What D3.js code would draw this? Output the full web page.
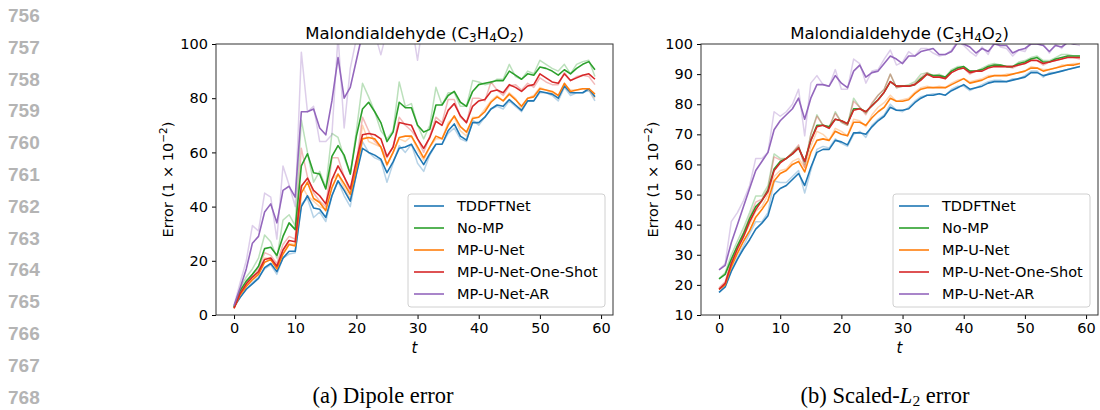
<!DOCTYPE html>
<html>
<head>
<meta charset="utf-8">
<script src="https://cdn.jsdelivr.net/npm/d3@7"></script>
<style>
  body { margin: 0; background: #fff; }
  svg { display: block; }
  .tick text { font-family: "DejaVu Sans", sans-serif; font-size: 14.5px; fill: #000; }
  .tick line { stroke: #000; }
</style>
</head>
<body>
<svg id="chart" width="1100" height="410"></svg>
<script>
let steps = d3.range(60);

let seriesNames = ["TDDFTNet", "No-MP", "MP-U-Net", "MP-U-Net-One-Shot", "MP-U-Net-AR"];
let seriesColors = ["#1f77b4", "#2ca02c", "#ff7f0e", "#d62728", "#9467bd"];

// dipole error (left panel)
let dipTDDFT = [3,6.5,9.5,11.5,13.5,17.5,19,16,21,23.5,23.5,40,44,39.5,39,36,44,49.5,46,42,52,61.5,60,59,57.5,52.5,56.5,61.5,62,63,59,55.5,59.5,63,63,68,70.5,66,64.5,71,71,73,76,77.5,77,79.5,77.5,75.5,79,79,82.5,82,81.5,80,84.5,82,82,82,83.5,80.5];
let dipTDDFTb = [3,6.5,9.5,12,14,17,18.5,15,21,22.5,23,41,43,36,38,34.5,44,49.5,44,40,52,64,60,58,57,49,56,62.5,60,63,56,53,59,63,63,67,69,65,64,72,70,73,76,77,76,79,77,75,79,79,82,82,81,79,84,81,82,82,83,79];
let dipNoMP = [3,9,12.5,15,18,24.5,25,22,29,34,31.5,55,59.5,52.5,52,46.5,58.5,62.5,59,52,66,76,78.5,75,71,64,67.5,78.5,76.5,76.5,70,67.5,68.5,77.5,77.5,81,82.5,78.5,77,82.5,85,85.5,86,86.5,86.5,90,88.5,87,89,88.5,91.5,91,90,88.5,90.5,89,91,92.5,93.5,90.5];
let dipNoMPb = [3,10,14,17,21,29.5,27,21,35,37,33,72,60,49,53,47,67,65.5,58,52,68,85.5,80.5,75,68,65,68,86,77,78,70,65,70,84,77.5,82,82,77,77,86.5,86,85,85.5,87,87,92.5,88,87,90,89,94,92.5,91,90,92.5,89,92.5,93.5,94,88];
let dipUNet = [2.5,7.5,10.5,13,15,19.5,20.5,17,22.5,26,25.5,45,49,43,41.5,38.5,47,52,48.5,44.5,54,65,65.5,65,62,55.5,60,65.5,66,66,62,58,62,66,65,70,73.5,69.5,67.5,72.5,73,75,78.5,80.5,79,81.5,79.5,77,80,80.5,83.5,83,82.5,81,85.5,82.5,83,83.5,83.5,81.5];
let dipUNetb = [2.5,8,11,13.5,16,21,21,17.5,24,26.5,26,48,44,42,40,39,50,52,47,43,54,70,64,63,62,55,60,65,64,66,61,57,62,65,65,71,73,68,66,73,73,76,79,81,79,82,80,76,80,81,84,83,82,80,85,83,83,83.5,83,80];
let dipOneShot = [2.5,8,11.5,14,16,20.5,21,18,24,27.5,27,47.5,50.5,46,44,41,50,55,51,46.5,57,66.5,67,66.5,65,58.5,62,71,70.5,70,65,61.5,65.5,71.5,70,75.5,78,73.5,71,77,79,79.5,82.5,83,82,85,84,82.5,84.5,85,89,87.5,86,85.5,89,86.5,87.5,88.5,89,87];
let dipOneShotb = [2.5,9,12,15,17,23,22,19,26,29,28,61.5,51,45,42,40,58,58,51,45,56,73,68,64,62,58,62,73,70,68,65,60,66,73,71,79.5,79.5,73,71,80,80,79,86,83,81,84.5,85,83,85.5,84,87.5,86,85,85,89.5,86.5,88,88.5,88,85];
let dipAR = [3.5,10,17,26.5,29,38,41,34,46,47.5,43.5,75,75,76,69,66.5,79,95,80,84,94,104,108,110,106,104,108,112,110,106,105,108,110,113,112,114,116,112,110,115,116,117,118,119,118,120,119,117,120,119,122,121,120,119,122,120,121,122,123,121];
let dipARb = [3.5,12,20,33,31,45,43.5,28,55,48,40,97,75,77,64,64,66.5,103,69,91,102,108,112,104,96,105,110,115,104,108,94,110,112,115,110,116,118,110,112,117,118,118,120,120,118,121,120,118,121,120,123,122,120,118,123,120,122,123,124,120];

// scaled-L2 error (right panel)
let l2TDDFT = [17.5,19.3,24.5,28.5,32,35,38.5,40.5,43,50,52,53,55,57,53,59,64,65,65,68,67.5,66.5,70.5,70.5,70,72.5,74.5,76,79,78,78,78.5,80.5,82,83,83,83.5,83,84.5,85.5,86.5,85,85.5,86,87,87.5,87.5,87.5,88,88.5,89,90.5,90.5,89.5,90,90.5,91,91.5,92,92.5];
let l2TDDFTb = [17.5,19.5,25,29,33,37,41,41,44,54.5,54,54,56,58,50.5,58,65,66,65.5,68.5,67,66,70,71,69,73,75,76.5,80,78,77.5,79,81,82.5,83,83.5,83.5,83,85,86,86,84.5,85.5,86.5,87.5,88,88,87.5,88.5,88.5,89.5,91,91,89,90.5,90.5,91,91.5,92,92.5];
let l2NoMP = [22,23.5,28.5,33,37,42,46,48,51.5,58.5,61,62,63.5,65.5,61,68,73,73,72.5,75,74.5,73.5,78.5,78.5,77.5,79.5,81.5,84,87.5,86,86,86,86.5,88.5,90,89.5,89.5,89,91,92,92.5,91,91,91.5,92.5,93,93,92.5,92.5,93.5,94,95,95.5,94,94,95,95.5,96,96,96];
let l2NoMPb = [22,24,30,34.5,39,44,49.5,49.5,53,63.5,62,62,64,66,60,70,76.5,73,72,77.5,74,73,82,79,77,80,83,85,90,85.5,86,86.5,87.5,90,90.5,89.5,90,89,91.5,92.5,92.5,91,91,92,93,93.5,93,92.5,92.5,94,94.5,95.5,96,94.5,94.5,95.5,96.5,96.5,96,96];
let l2UNet = [18.5,20,26,30.5,34.5,38,42.5,45,48,54.5,57,58,60,61,57.5,64,68,68.5,68,71,70,69.5,74,74,73,75.5,77.5,79,82,81,81,81.5,83.5,85,85.5,85.5,85.5,85.5,86.5,87.5,88.5,87,87.5,88,89,89.5,89.5,89.5,90,90.5,91,92,92,91,91.5,92,92.5,93,93,93.5];
let l2UNetb = [18.5,20.5,27,31.5,36,40,44.5,46,50,56,58,58.5,61,62,59,66,71,70,68,72,71,69.5,75,74.5,72.5,76.5,79,80.5,83,81,81.5,82,84,85.5,86,85.5,86,85.5,87,88,88.5,87.5,88,88.5,89.5,89.5,89.5,90,90,90.5,91,92.5,92,91.5,91.5,92,93,93,93.5,93.5];
let l2OneShot = [18.5,20.5,27,32,36,41,45,48,51,58,60.5,62,63.5,65.5,61,68,72.5,73,72,75,74.5,73.5,78,78.5,77.5,79.5,81.5,84,87.5,86,86,86,86.5,88,90,89,89,88.5,90.5,91.5,92,90.5,91,91,92,92.5,92.5,92.5,92.5,93,93.5,94.5,94.5,93.5,94,94.5,95,95.5,95.5,95.5];
let l2OneShotb = [19,21,28,33,37.5,42.5,47.5,48.5,52,62.5,61.5,62,64,66.5,59,70,76,73,72.5,77,74,73,81,79,76.5,80.5,83,85,90,85.5,86,86,87,89,90.5,89.5,89.5,88.5,91,92,92,90,91,91.5,92.5,93,92.5,92.5,92,93,93.5,95,94.5,93,94,94.5,95,96,95.5,95];
let l2AR = [25,26.5,34,40,46,52,58,61,64,71.5,74.5,76.5,78.5,82,75,82,86.5,86.5,86,89.5,87,85.5,91,93,89,90.5,91,93.5,96,95,93.5,96,96,97.5,98,98.5,96.5,96.5,97.5,100.5,100,99,97,98.5,97.5,100,99.5,99.5,97,98,98.5,100,100,99.5,97.5,99.5,99,100.5,100,100.5];
let l2ARb = [25,27,41,44,48,53,62,62,64,77.5,76,77.5,80,85,69.5,87,89.5,86.5,86,91.5,85,85,95,93.5,87,91,91.5,95,98,93,94,97.5,96,98.5,98.5,97,96,96.5,98,101,99.5,97.5,96,99,96.5,101,99,98.5,96,98,97.5,101,101,100,97,100,98.5,101,100,99.5];

let xTicks = [0, 10, 20, 30, 40, 50, 60];
let dipTicks = [0, 20, 40, 60, 80, 100];
let l2Ticks = [10, 20, 30, 40, 50, 60, 70, 80, 90, 100];

let svg = d3.select("#chart");

// line numbers down the margin
let lineNumbers = d3.range(756, 769);
svg.selectAll(".lineno")
  .data(lineNumbers)
  .enter()
  .append("text")
  .attr("class", "lineno")
  .attr("x", 8)
  .attr("y", (d, i) => 22 + i * 31.8)
  .attr("font-family", "Liberation Sans, Arial, sans-serif")
  .attr("font-weight", "bold")
  .attr("font-size", 19)
  .attr("fill", "#b4b4b4")
  .text(d => d);

drawPanel({
  left: 216, right: 613, top: 44, bottom: 315,
  yDomain: [0, 100], yTicks: dipTicks,
  bold: [dipTDDFT, dipNoMP, dipUNet, dipOneShot, dipAR],
  faint: [dipTDDFTb, dipNoMPb, dipUNetb, dipOneShotb, dipARb],
  ylabelX: 168, legendX: 408, id: "a"
});

drawPanel({
  left: 701, right: 1098, top: 44, bottom: 315,
  yDomain: [10, 100], yTicks: l2Ticks,
  bold: [l2TDDFT, l2NoMP, l2UNet, l2OneShot, l2AR],
  faint: [l2TDDFTb, l2NoMPb, l2UNetb, l2OneShotb, l2ARb],
  ylabelX: 653, legendX: 893, id: "b"
});

function drawPanel(p) {
  let g = svg.append("g");
  let w = p.right - p.left, h = p.bottom - p.top;

  let x = d3.scaleLinear().domain([-2.95, 61.95]).range([p.left, p.right]);
  let y = d3.scaleLinear().domain(p.yDomain).range([p.bottom, p.top]);

  svg.append("clipPath").attr("id", "clip-" + p.id)
    .append("rect").attr("x", p.left).attr("y", p.top).attr("width", w).attr("height", h);

  let line = d3.line().x((d, i) => x(steps[i])).y(d => y(d));

  let plot = g.append("g").attr("clip-path", "url(#clip-" + p.id + ")");

  p.faint.forEach((s, i) => {
    plot.append("path")
      .attr("d", line(s))
      .attr("fill", "none")
      .attr("stroke", seriesColors[i])
      .attr("stroke-opacity", 0.32)
      .attr("stroke-width", 1.5)
      .attr("stroke-linejoin", "round");
  });

  p.bold.forEach((s, i) => {
    plot.append("path")
      .attr("d", line(s))
      .attr("fill", "none")
      .attr("stroke", seriesColors[i])
      .attr("stroke-width", 1.6)
      .attr("stroke-linejoin", "round");
  });

  g.append("g")
    .attr("transform", "translate(0," + p.bottom + ")")
    .call(d3.axisBottom(x).tickValues(xTicks).tickSize(4).tickPadding(4))
    .call(a => a.select(".domain").remove());

  g.append("g")
    .attr("transform", "translate(" + p.left + ",0)")
    .call(d3.axisLeft(y).tickValues(p.yTicks).tickSize(4).tickPadding(4))
    .call(a => a.select(".domain").remove());

  g.append("rect")
    .attr("x", p.left).attr("y", p.top).attr("width", w).attr("height", h)
    .attr("fill", "none").attr("stroke", "#333").attr("stroke-width", 1);

  // title with subscripts
  let title = g.append("text")
    .attr("x", (p.left + p.right) / 2).attr("y", 38.5)
    .attr("text-anchor", "middle")
    .attr("font-family", "DejaVu Sans, sans-serif")
    .attr("font-size", 16.5);
  title.append("tspan").text("Malondialdehyde (C");
  title.append("tspan").attr("font-size", 12).attr("dy", 3).text("3");
  title.append("tspan").attr("dy", -3).text("H");
  title.append("tspan").attr("font-size", 12).attr("dy", 3).text("4");
  title.append("tspan").attr("dy", -3).text("O");
  title.append("tspan").attr("font-size", 12).attr("dy", 3).text("2");
  title.append("tspan").attr("dy", -3).text(")");

  g.append("text")
    .attr("x", (p.left + p.right) / 2).attr("y", 353)
    .attr("text-anchor", "middle")
    .attr("font-family", "DejaVu Sans, sans-serif")
    .attr("font-style", "italic")
    .attr("font-size", 15)
    .text("t");

  let yl = g.append("text")
    .attr("transform", "translate(" + (p.ylabelX + 5) + "," + (p.top + h / 2) + ") rotate(-90)")
    .attr("text-anchor", "middle")
    .attr("font-family", "DejaVu Sans, sans-serif")
    .attr("font-size", 14.5);
  yl.append("tspan").text("Error (1 \u00d7 10");
  yl.append("tspan").attr("font-size", 10.5).attr("dy", -6).text("\u22122");
  yl.append("tspan").attr("dy", 6).text(")");

  // legend
  let lg = g.append("g").attr("transform", "translate(" + p.legendX + ",194)");
  lg.append("rect")
    .attr("width", 197).attr("height", 113).attr("rx", 3)
    .attr("fill", "#fff").attr("fill-opacity", 0.8)
    .attr("stroke", "#d0d0d0").attr("stroke-width", 1);
  seriesNames.forEach((name, i) => {
    let yy = 12 + i * 22;
    lg.append("line")
      .attr("x1", 6).attr("x2", 36).attr("y1", yy).attr("y2", yy)
      .attr("stroke", seriesColors[i]).attr("stroke-width", 1.6);
    lg.append("text")
      .attr("x", 49).attr("y", yy + 5)
      .attr("font-family", "DejaVu Sans, sans-serif")
      .attr("font-size", 14.5)
      .text(name);
  });
}

// captions
svg.append("text")
  .attr("x", 383).attr("y", 403)
  .attr("text-anchor", "middle")
  .attr("font-family", "Liberation Serif, Times New Roman, serif")
  .attr("font-size", 22.5)
  .text("(a) Dipole error");

let capB = svg.append("text")
  .attr("x", 885).attr("y", 403)
  .attr("text-anchor", "middle")
  .attr("font-family", "Liberation Serif, Times New Roman, serif")
  .attr("font-size", 22.5);
capB.append("tspan").text("(b) Scaled-");
capB.append("tspan").attr("font-style", "italic").text("L");
capB.append("tspan").attr("font-size", 15.5).attr("dy", 3).text("2");
capB.append("tspan").attr("dy", -3).text(" error");
</script>
</body>
</html>
